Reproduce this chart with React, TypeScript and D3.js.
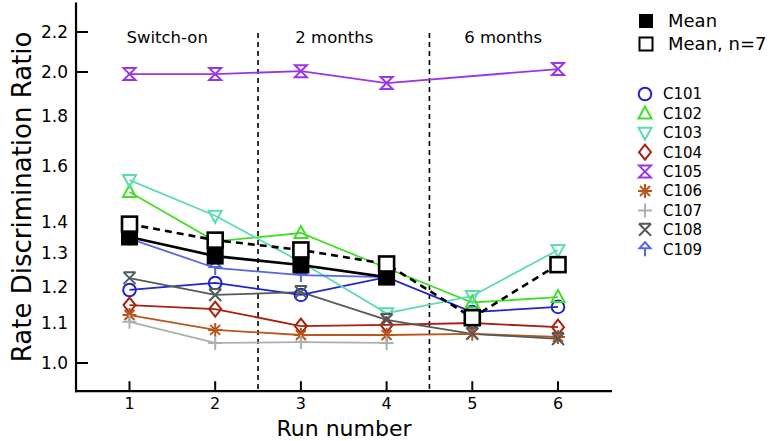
import React from "react";
import * as d3 from "d3";

const runs = [1, 2, 3, 4, 5, 6];
const runTicks = ["1", "2", "3", "4", "5", "6"];
const yTickValues = [1.0, 1.1, 1.2, 1.3, 1.4, 1.6, 1.8, 2.0, 2.2];
const yTickMarks = [1.0, 2.0, 2.2];

const c101 = [1.19, 1.21, 1.176, 1.227, 1.129, 1.143];
const c102 = [1.503, 1.336, 1.363, 1.254, 1.155, 1.17];
const c103 = [1.546, 1.42, 1.272, 1.126, 1.173, 1.309];
const c104 = [1.148, 1.137, 1.092, 1.095, 1.1, 1.089];
const c105 = [1.99, 1.99, 2.004, 1.948, null, 2.014];
const c106 = [1.121, 1.082, 1.069, 1.069, 1.072, 1.064];
const c107 = [1.103, 1.049, 1.051, 1.049, null, null];
const c108 = [1.224, 1.176, 1.184, 1.108, 1.072, 1.059];
const c109 = [1.345, 1.254, 1.233, 1.227, null, null];
const meanAll = [1.35, 1.29, 1.263, 1.227, null, null];
const meanN7 = [1.392, 1.34, 1.309, 1.266, 1.114, 1.264];

const seriesNames = ["C101", "C102", "C103", "C104", "C105", "C106", "C107", "C108", "C109"];
const seriesValues = [c101, c102, c103, c104, c105, c106, c107, c108, c109];
const seriesColors = ["#2323cc", "#44dd2a", "#5cdcae", "#a8200f", "#9a35e6", "#b8561c", "#a9b0b0", "#545a5a", "#5566e6"];
const seriesMarkers = ["circle", "triUp", "triDown", "diamond", "hourglass", "asterisk", "plus", "xbar", "arrow"];

const sections = ["Switch-on", "2 months", "6 months"];
const sectionPos = [1.44, 3.39, 5.36];
const dividers = [2.5, 4.5];

function markerPath(type: string): string {
  switch (type) {
    case "triUp":
      return "M0,-7 L6.5,5 L-6.5,5 Z";
    case "triDown":
      return "M0,7 L6.5,-5 L-6.5,-5 Z";
    case "diamond":
      return "M0,-7.5 L6,0 L0,7.5 L-6,0 Z";
    case "hourglass":
      return "M-6,-6 L6,-6 L-6,6 L6,6 Z";
    case "asterisk":
      return "M0,-7 L0,7 M-7,0 L7,0 M-5,-5 L5,5 M-5,5 L5,-5";
    case "plus":
      return "M0,-7 L0,7 M-7,0 L7,0";
    case "xbar":
      return "M-6,-6 L6,-6 M-6,-6 L6,6 M6,-6 L-6,6";
    case "arrow":
      return "M0,-7 L5.5,-1 L-5.5,-1 Z M0,-1 L0,7";
    default:
      return "";
  }
}

function Marker({ type, x, y, color }: { type: string; x: number; y: number; color: string }) {
  if (type === "circle") {
    return <circle cx={x} cy={y} r={6.3} fill="none" stroke={color} strokeWidth={2} />;
  }
  return (
    <path
      d={markerPath(type)}
      transform={`translate(${x},${y})`}
      fill="none"
      stroke={color}
      strokeWidth={2}
      strokeLinejoin="miter"
    />
  );
}

export default function App() {
  const font = "DejaVu Sans, sans-serif";
  const x = d3.scaleLinear().domain([1, 6]).range([129.5, 558]);
  const y = d3.scaleLog().domain([1, 2]).range([363, 72]);
  const xMin = 0.376;
  const xMax = 6.63;
  const yMin = 0.935;
  const yMax = 2.36;

  const line = d3
    .line<[number, number | null]>()
    .defined((d) => d[1] !== null)
    .x((d) => x(d[0]))
    .y((d) => y(d[1] as number));

  const pts = (vals: (number | null)[]) => runs.map((r, i) => [r, vals[i]] as [number, number | null]);
  const ptsDefined = (vals: (number | null)[]) => pts(vals).filter((d) => d[1] !== null) as [number, number][];
  const lineAll = (vals: (number | null)[]) => d3.line<[number, number]>().x((d) => x(d[0])).y((d) => y(d[1]))(ptsDefined(vals)) || "";

  const axisX0 = x(xMin);
  const axisY0 = y(yMin);
  const sq = 15;

  return (
    <svg width={773} height={441} style={{ position: "absolute", left: 0, top: 0, background: "#fff" }}>
      <rect width={773} height={441} fill="#fff" />
      {dividers.map((d, i) => (
        <line key={i} x1={x(d)} x2={x(d)} y1={33} y2={axisY0} stroke="#000" strokeWidth={1.6} strokeDasharray="5,4" />
      ))}
      {sections.map((s, i) => (
        <text key={s} x={x(sectionPos[i])} y={43} fontFamily={font} fontSize={16.5} textAnchor="middle" fill="#000">
          {s}
        </text>
      ))}
      {seriesValues.map((vals, i) => (
        <path key={"l" + i} d={lineAll(vals)} fill="none" stroke={seriesColors[i]} strokeWidth={1.8} />
      ))}
      {seriesValues.map((vals, i) =>
        ptsDefined(vals).map((d, j) => (
          <Marker key={"m" + i + "-" + j} type={seriesMarkers[i]} x={x(d[0])} y={y(d[1])} color={seriesColors[i]} />
        ))
      )}
      <path d={line(pts(meanAll)) || ""} fill="none" stroke="#000" strokeWidth={2.6} />
      <path d={lineAll(meanN7)} fill="none" stroke="#000" strokeWidth={2.6} strokeDasharray="7,5" />
      {ptsDefined(meanAll).map((d, j) => (
        <rect key={"fa" + j} x={x(d[0]) - sq / 2} y={y(d[1]) - sq / 2} width={sq} height={sq} fill="#000" stroke="#000" strokeWidth={2} />
      ))}
      {ptsDefined(meanN7).map((d, j) => (
        <rect key={"fn" + j} x={x(d[0]) - sq / 2} y={y(d[1]) - sq / 2} width={sq} height={sq} fill="#fff" stroke="#000" strokeWidth={2.6} />
      ))}
      <line x1={axisX0} x2={axisX0} y1={y(yMax)} y2={axisY0 + 1} stroke="#000" strokeWidth={2.2} />
      <line x1={axisX0 - 1} x2={x(xMax)} y1={axisY0} y2={axisY0} stroke="#000" strokeWidth={2.2} />
      {yTickMarks.map((v) => (
        <line key={"yt" + v} x1={axisX0} x2={axisX0 + 12} y1={y(v)} y2={y(v)} stroke="#000" strokeWidth={2} />
      ))}
      {yTickValues.map((v) => (
        <text key={"yl" + v} x={68} y={y(v)} dy="0.36em" fontFamily={font} fontSize={17} textAnchor="end" fill="#000">
          {v.toFixed(1)}
        </text>
      ))}
      {runs.map((r, i) => (
        <g key={"xt" + r}>
          <line x1={x(r)} x2={x(r)} y1={axisY0} y2={axisY0 - 10} stroke="#000" strokeWidth={2} />
          <text x={x(r)} y={409} fontFamily={font} fontSize={16} textAnchor="middle" fill="#000">
            {runTicks[i]}
          </text>
        </g>
      ))}
      <text x={(axisX0 + x(xMax)) / 2} y={436} fontFamily={font} fontSize={22} textAnchor="middle" fill="#000">
        Run number
      </text>
      <text
        transform={`translate(31,${(y(yMax) + axisY0) / 2}) rotate(-90)`}
        fontFamily={font}
        fontSize={26}
        textAnchor="middle"
        fill="#000"
      >
        Rate Discrimination Ratio
      </text>
      <rect x={646 - 7} y={21 - 7} width={14} height={14} fill="#000" />
      <text x={668} y={21} dy="0.36em" fontFamily={font} fontSize={18} fill="#000">Mean</text>
      <rect x={646 - 6.5} y={44 - 6.5} width={13} height={13} fill="#fff" stroke="#000" strokeWidth={2} />
      <text x={668} y={44} dy="0.36em" fontFamily={font} fontSize={18} fill="#000">Mean, n=7</text>
      {seriesNames.map((n, i) => {
        const ly = 94 + i * 19.4;
        return (
          <g key={"lg" + n}>
            <Marker type={seriesMarkers[i]} x={645} y={ly} color={seriesColors[i]} />
            <text x={663} y={ly} dy="0.36em" fontFamily={font} fontSize={15} fill="#000">
              {n}
            </text>
          </g>
        );
      })}
    </svg>
  );
}
